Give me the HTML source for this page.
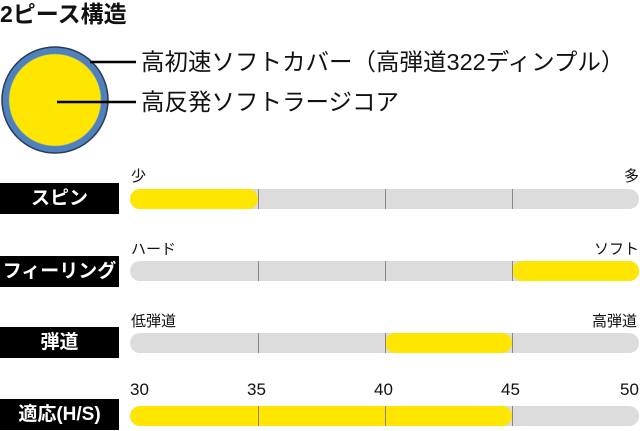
<!DOCTYPE html>
<html><head><meta charset="utf-8"><style>
body{margin:0;width:640px;height:431px;background:#fff;position:relative;overflow:hidden;font-family:"Liberation Sans","Noto Sans CJK JP",sans-serif;}
.a{position:absolute;}
.box{position:absolute;left:0;width:119px;height:31px;background:#000;color:#fff;font-weight:bold;font-size:19px;line-height:31px;text-align:center;white-space:nowrap;}
.bar{position:absolute;left:130px;width:509px;height:20px;background:#dcdcdc;border-radius:10px;}
.tk{position:absolute;top:0;width:1px;height:20px;background:#888;}
.y{position:absolute;top:0;height:20px;background:#ffe600;border-radius:10px;}
.sm{position:absolute;font-size:15px;color:#111;}
.num{position:absolute;font-size:17px;color:#111;}
</style></head><body>
<div class="a" style="left:0;top:0;font-size:23px;font-weight:bold;line-height:28px;color:#111">2ピース構造</div>
<svg class="a" style="left:0;top:40px" width="140" height="120">
<circle cx="55" cy="60" r="53" fill="#4f81bd" stroke="#2a3a55" stroke-width="1.5"/>
<circle cx="55" cy="60" r="46" fill="#ffe600" stroke="#8aa" stroke-width="0.6"/>
<line x1="90" y1="22" x2="136" y2="22" stroke="#000" stroke-width="2.5"/>
<line x1="57" y1="62" x2="136" y2="62" stroke="#000" stroke-width="2.5"/>
</svg>
<div class="a" style="left:141px;top:47px;font-size:23.5px;color:#111;line-height:30px;white-space:nowrap">高初速ソフトカバー（高弾道322ディンプル）</div>
<div class="a" style="left:141px;top:87px;font-size:23.5px;color:#111;line-height:30px;white-space:nowrap">高反発ソフトラージコア</div>

<div class="box" style="top:183px">スピン</div>
<div class="sm" style="left:131px;top:165px">少</div><div class="sm" style="left:624px;top:165px">多</div>
<div class="bar" style="top:189px"><div class="y" style="left:0;width:128px"></div><div class="tk" style="left:128px"></div><div class="tk" style="left:255px"></div><div class="tk" style="left:382px"></div></div>

<div class="box" style="top:256px">フィーリング</div>
<div class="sm" style="left:131px;top:238px">ハード</div><div class="sm" style="left:594px;top:238px">ソフト</div>
<div class="bar" style="top:261px"><div class="tk" style="left:128px"></div><div class="tk" style="left:255px"></div><div class="y" style="left:382px;width:127px"></div><div class="tk" style="left:382px"></div></div>

<div class="box" style="top:327px">弾道</div>
<div class="sm" style="left:131px;top:310px">低弾道</div><div class="sm" style="left:592px;top:310px">高弾道</div>
<div class="bar" style="top:333px"><div class="tk" style="left:128px"></div><div class="y" style="left:255px;width:127px"></div><div class="tk" style="left:255px"></div><div class="tk" style="left:382px"></div></div>

<div class="box" style="top:399px">適応(H/S)</div>
<div class="num" style="left:130px;top:380px">30</div><div class="num" style="left:247px;top:380px">35</div><div class="num" style="left:374px;top:380px">40</div><div class="num" style="left:501px;top:380px">45</div><div class="num" style="left:620px;top:380px">50</div>
<div class="bar" style="top:406px"><div class="y" style="left:0;width:382px"></div><div class="tk" style="left:128px"></div><div class="tk" style="left:255px"></div><div class="tk" style="left:382px"></div></div>
</body></html>
